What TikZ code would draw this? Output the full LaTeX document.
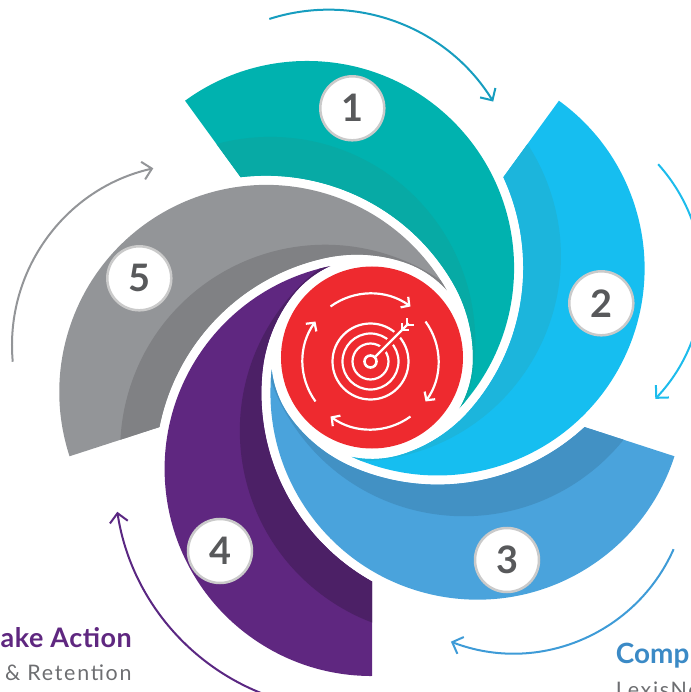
\documentclass[tikz,border=0pt]{standalone}
\usepackage{fontspec}
\setmainfont{Lato}
\usetikzlibrary{arrows.meta}
\definecolor{tealL}{HTML}{00B2AF}
\definecolor{tealD}{HTML}{07AAA5}
\definecolor{skyL}{HTML}{16BEF0}
\definecolor{skyD}{HTML}{1CB5DC}
\definecolor{blueL}{HTML}{4AA3DC}
\definecolor{blueD}{HTML}{4291C4}
\definecolor{purpL}{HTML}{5F2780}
\definecolor{purpD}{HTML}{4C2066}
\definecolor{grayL}{HTML}{939598}
\definecolor{grayD}{HTML}{808184}
\definecolor{redC}{HTML}{EE2A2F}
\definecolor{numgray}{HTML}{58595B}
\definecolor{ringgray}{HTML}{CACACA}
\definecolor{arrA}{HTML}{169DBF}
\definecolor{arrB}{HTML}{1DBCEC}
\definecolor{arrC}{HTML}{3E9BD7}
\definecolor{arrD}{HTML}{5A2782}
\definecolor{arrE}{HTML}{939598}
\definecolor{txtgray}{HTML}{6D6E71}
\definecolor{compblue}{HTML}{3B8AC6}
\begin{document}
\begin{tikzpicture}[x=1bp,y=1bp,
  numc/.style={circle, fill=white, draw=ringgray, line width=2.5bp, minimum size=64bp, inner sep=0pt,
    font=\fontsize{38}{38}\selectfont\bfseries, text=numgray},
  cyc/.style={line width=2bp, -{Straight Barb[length=9bp,width=18bp]}},
  icon/.style={white, line width=2.2bp},
  iarr/.style={icon, -{Straight Barb[length=6bp,width=13bp]}},
  lbl/.style={inner sep=0pt},
]
\useasboundingbox (-372,-334) rectangle (319,358);
\clip (-372,-334) rectangle (319,358);

% ---- five blades (rotated copies) ----
\foreach \k/\cl/\cd in {0/tealL/tealD,1/skyL/skyD,2/blueL/blueD,3/purpL/purpD,4/grayL/grayD}{
  \begin{scope}[rotate=-72*\k]
    % sector of this blade
    \clip (126:700) -- (36:700) -- (-54:700) -- cycle;
    % keep clear of the previous blade (outer edge + gap), easing into the centre ring
    \clip (-1200,-1200) -- (-1200,1200) -- (1200,1200) -- (1200,-1200) -- cycle
       (0,0) -- (101,0) arc[start angle=0,end angle=30.7,radius=150]
             arc[start angle=30.7,end angle=201.1,radius=216] -- cycle;
    % keep clear of the centre disc
    \clip (-1200,-1200) -- (-1200,1200) -- (1200,1200) -- (1200,-1200) -- cycle
       (101,0) arc[start angle=0,end angle=360,radius=101] -- cycle;
    % outer edge
    \clip (125.8:111) circle[radius=207];
    \fill[\cl] (-1200,-1200) rectangle (1200,1200);
    \fill[\cd] (171:103) circle[radius=205];
  \end{scope}
}

% ---- centre ----
\fill[redC] (0,0.5) circle[radius=91];
\begin{scope}[shift={(-1.5,-3.5)}]
  \draw[icon] (0,0) circle[radius=38];
  \draw[icon] (0,0) circle[radius=28];
  \draw[icon] (0,0) circle[radius=18];
  \draw[icon, line width=2.6bp] (0,0) circle[radius=6];
  \draw[redC, line width=8bp] (45:10) -- (45:50);
  \draw[icon] (45:7) -- (45:54);
  \draw[icon] (31.1,38.1) -- (31.1,31.1) -- (38.1,31.1);
  \draw[icon] (36.1,43.1) -- (36.1,36.1) -- (43.1,36.1);
  \foreach \c in {90,0,-90,180}{
    \draw[iarr] (\c+36:68) arc[start angle=\c+36,end angle=\c-36,radius=68];
  }
\end{scope}

% ---- numbered badges ----
\node[numc] (n1) at (-19.7,249.7) {1};
\node[numc] (n2) at (229.3,54.7) {2};
\node[numc] (n3) at (135,-202) {3};
\node[numc] (n4) at (-152,-193) {4};
\node[numc] (n5) at (-232.7,79.7) {5};

% ---- cycle arrows ----
\draw[cyc, arrA, shift={(-43.5,154.7)}] (107.8:193.6) arc[start angle=107.8,end angle=31.7,radius=193.6];
\draw[cyc, arrB, shift={(157.6,78)}] (42:173) arc[start angle=42,end angle=-43.4,radius=173];
\draw[cyc, arrC, shift={(141.6,-120.3)}] (-23.9:175) arc[start angle=-23.9,end angle=-111,radius=175];
\draw[cyc, arrD, shift={(-24.1,-118.5)}] (252:233.3) arc[start angle=252,end angle=188.7,radius=233.3];
\draw[cyc, arrE, shift={(-178.5,12.7)}] (185.2:181.5) arc[start angle=185.2,end angle=102.8,radius=181.5];

% ---- labels ----
\node[lbl, anchor=base east, text=purpL, font=\fontsize{27}{27}\selectfont\bfseries\addfontfeature{LetterSpace=2}] (t1) at (-240,-289.7) {ake Action};
\node[lbl, anchor=base east, text=txtgray, font=\fontsize{21.5}{21.5}\selectfont\addfontfeature{LetterSpace=8}] (t2) at (-240.3,-322.3) {\& Retention};
\node[lbl, anchor=base west, text=compblue, font=\fontsize{28}{28}\selectfont\bfseries] (t3) at (243.7,-305.5) {Comp};
\node[lbl, anchor=base west, text=txtgray, font=\fontsize{21.5}{21.5}\selectfont\addfontfeature{LetterSpace=8}] (t4) at (243.7,-339) {LexisNe};
\end{tikzpicture}
\end{document}
